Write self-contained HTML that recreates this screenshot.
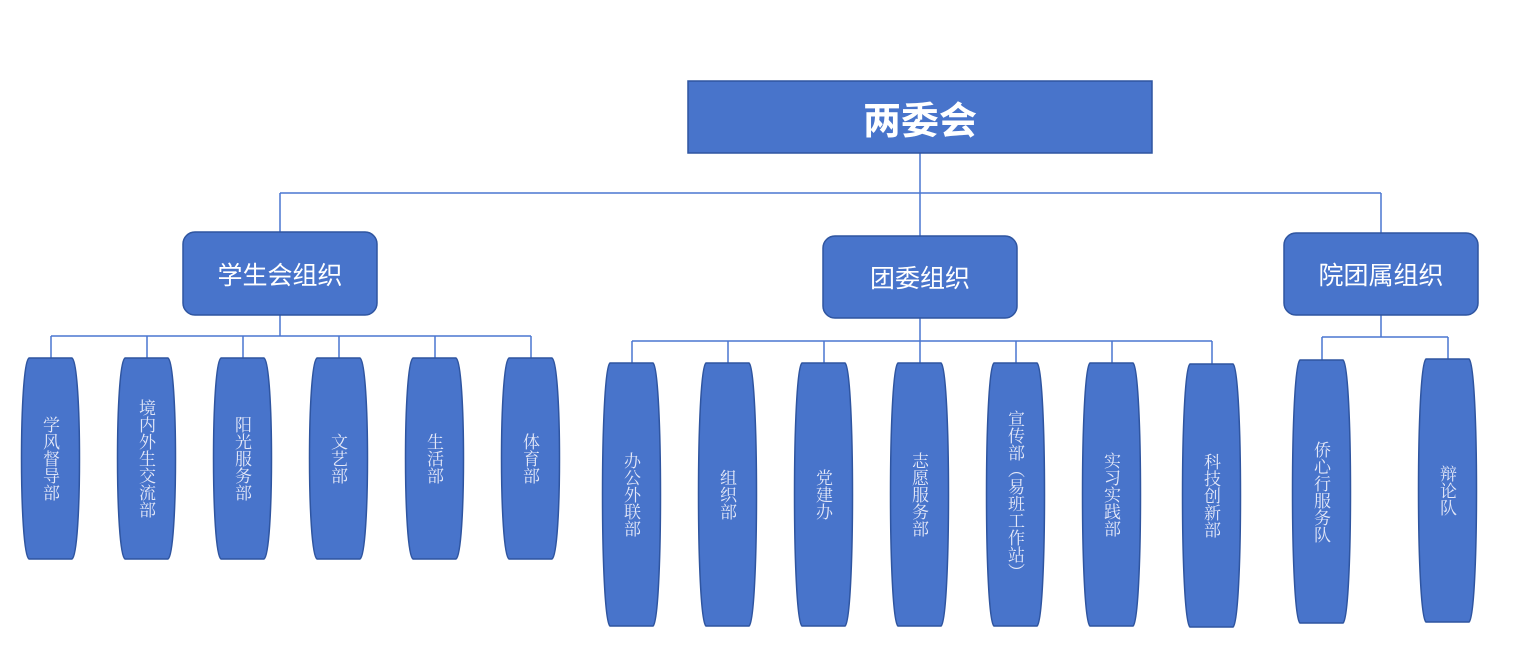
<!DOCTYPE html>
<html><head><meta charset="utf-8">
<style>
html,body{margin:0;padding:0;background:#fff;}
#c{position:relative;width:1516px;height:646px;overflow:hidden;font-family:"Liberation Sans","Noto Sans CJK SC",sans-serif;}
svg{position:absolute;left:0;top:0;}
.t{position:absolute;display:flex;align-items:center;justify-content:center;color:#fff;}
.v{position:absolute;display:flex;align-items:center;justify-content:center;color:#e4e8f8;font-family:"Noto Serif CJK SC","Noto Sans CJK SC",serif;font-size:17px;}
.v span{writing-mode:vertical-rl;text-orientation:upright;line-height:18px;}
</style></head><body><div id="c">
<svg width="1516" height="646" viewBox="0 0 1516 646">
<defs>
<path id="a" d="M7 0H50C60 6 60 195 50 201H7C-3 195 -3 6 7 0Z"/>
<path id="b" d="M7 0H50C60 8 60 255 50 263H7C-3 255 -3 8 7 0Z"/>
</defs>
<g stroke="#4a76d0" stroke-width="1.5" fill="none">
<path d="M920 153V236M280 193H1381M280 193V232M1381 193V233"/>
<path d="M280 315V336M51 336H531M51 336V358M147 336V358M243 336V358M339 336V358M435 336V358M531 336V358"/>
<path d="M920 318V341M632 341H1212M632 341V363M728 341V363M824 341V363M920 341V363M1016 341V363M1112 341V363M1212 341V364"/>
<path d="M1381 315V337M1322 337H1448M1322 337V360M1448 337V359"/>
</g>
<g fill="#4874cb" stroke="#2f55a0" stroke-width="1.5">
<rect x="688" y="81" width="464" height="72"/>
<rect x="183" y="232" width="194" height="83" rx="12"/>
<rect x="823" y="236" width="194" height="82" rx="12"/>
<rect x="1284" y="233" width="194" height="82" rx="12"/>
<use href="#a" x="22" y="358"/>
<use href="#a" x="118" y="358"/>
<use href="#a" x="214" y="358"/>
<use href="#a" x="310" y="358"/>
<use href="#a" x="406" y="358"/>
<use href="#a" x="502" y="358"/>
<use href="#b" x="603" y="363"/>
<use href="#b" x="699" y="363"/>
<use href="#b" x="795" y="363"/>
<use href="#b" x="891" y="363"/>
<use href="#b" x="987" y="363"/>
<use href="#b" x="1083" y="363"/>
<use href="#b" x="1183" y="364"/>
<use href="#b" x="1293" y="360"/>
<use href="#b" x="1419" y="359"/>
</g>
</svg>
<div class="t" style="left:688px;top:81px;width:464px;height:72px;font-size:38px;font-weight:bold;">两委会</div>
<div class="t" style="left:183px;top:232px;width:194px;height:83px;font-size:25px;">学生会组织</div>
<div class="t" style="left:823px;top:236px;width:194px;height:82px;font-size:25px;">团委组织</div>
<div class="t" style="left:1284px;top:233px;width:194px;height:82px;font-size:25px;">院团属组织</div>

<div class="v" style="left:22px;top:358px;width:58px;height:201px;"><span>学风督导部</span></div>
<div class="v" style="left:118px;top:358px;width:58px;height:201px;"><span>境内外生交流部</span></div>
<div class="v" style="left:214px;top:358px;width:58px;height:201px;"><span>阳光服务部</span></div>
<div class="v" style="left:310px;top:358px;width:58px;height:201px;"><span>文艺部</span></div>
<div class="v" style="left:406px;top:358px;width:58px;height:201px;"><span>生活部</span></div>
<div class="v" style="left:502px;top:358px;width:58px;height:201px;"><span>体育部</span></div>
<div class="v" style="left:603px;top:363px;width:58px;height:263px;"><span>办公外联部</span></div>
<div class="v" style="left:699px;top:363px;width:58px;height:263px;"><span>组织部</span></div>
<div class="v" style="left:795px;top:363px;width:58px;height:263px;"><span>党建办</span></div>
<div class="v" style="left:891px;top:363px;width:58px;height:263px;"><span>志愿服务部</span></div>
<div class="v" style="left:987px;top:363px;width:58px;height:263px;"><span>宣传部（易班工作站）</span></div>
<div class="v" style="left:1083px;top:363px;width:58px;height:263px;"><span>实习实践部</span></div>
<div class="v" style="left:1183px;top:364px;width:58px;height:263px;"><span>科技创新部</span></div>
<div class="v" style="left:1293px;top:360px;width:58px;height:263px;"><span>侨心行服务队</span></div>
<div class="v" style="left:1419px;top:359px;width:58px;height:263px;"><span>辩论队</span></div>
</div></body></html>
